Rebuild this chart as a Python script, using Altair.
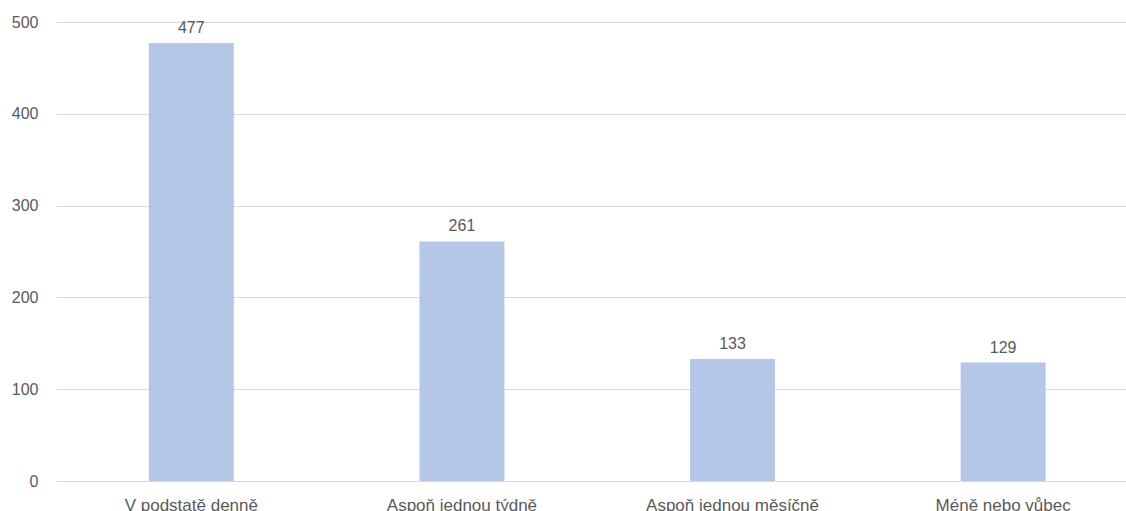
import altair as alt
import pandas as pd

# Response categories and counts
categories = ["V podstatě denně", "Aspoň jednou týdně", "Aspoň jednou měsíčně", "Méně nebo vůbec"]
counts = [477, 261, 133, 129]

df = pd.DataFrame({"kategorie": categories, "pocet": counts})

FONT = "Liberation Sans"
TEXT = "#595959"

x = alt.X(
    "kategorie:N",
    sort=categories,
    title=None,
    scale=alt.Scale(paddingInner=0.686, paddingOuter=0.32, align=0.536),
    axis=alt.Axis(labelAngle=0, labelFont=FONT, labelFontSize=17, labelColor=TEXT,
                  labelPadding=16, labelBaseline="top", ticks=False, domain=False, grid=False),
)
y = alt.Y(
    "pocet:Q",
    title=None,
    scale=alt.Scale(domain=[0, 500], nice=False),
    axis=alt.Axis(values=[0, 100, 200, 300, 400, 500], labelFont=FONT, labelFontSize=16,
                  labelColor=TEXT, labelPadding=18, ticks=False, domain=False,
                  gridColor="#d9d9d9", gridWidth=1),
)

bars = alt.Chart(df).mark_bar(color="#b4c7e7").encode(x=x, y=y)

labels = alt.Chart(df).mark_text(
    baseline="bottom", dy=-7, font=FONT, fontSize=16, color=TEXT
).encode(x=x, y=y, text=alt.Text("pocet:Q"))

chart = (
    alt.layer(bars, labels)
    .properties(
        width=1070,
        height=459,
        autosize=alt.AutoSizeParams(type="none"),
        padding={"left": 56, "top": 22, "right": 0, "bottom": 30},
        background="white",
    )
    .configure_view(stroke=None)
)

chart.save("out.html", embed_options={"renderer": "svg", "actions": False})
